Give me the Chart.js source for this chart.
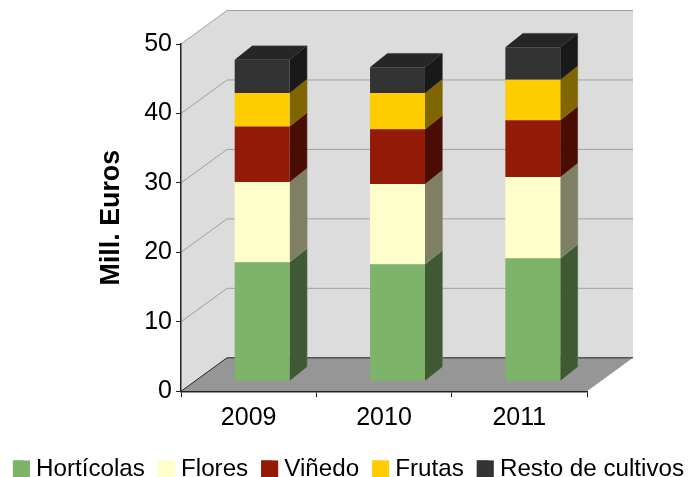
<!DOCTYPE html>
<html>
<head>
<meta charset="utf-8">
<script src="https://cdn.jsdelivr.net/npm/chart.js@4"></script>
<style>
  html, body { margin: 0; padding: 0; background: #fff; }
  canvas { display: block; }
</style>
</head>
<body>
<canvas id="chart" width="688" height="477"></canvas>
<script>
// Data
const years = ["2009", "2010", "2011"];
const horticolas = [17.15, 16.85, 17.7];
const flores = [11.55, 11.55, 11.7];
const vinedo = [8.0, 7.9, 8.2];
const frutas = [4.8, 5.2, 5.8];
const resto = [4.8, 3.7, 4.7];

const series_names = ["Hortícolas", "Flores", "Viñedo", "Frutas", "Resto de cultivos"];
const series_values = [horticolas, flores, vinedo, frutas, resto];
const series_colors = ["#7eb36a", "#ffffcc", "#931a06", "#ffcc00", "#333333"];

// 3d look: how far the back wall sits from the axes, and the bars inside that box
const wall_dx = 46, wall_dy = -33.5;
const bar_shift_x = 13.5, bar_shift_y = -10;
const bar_dx = 17.5, bar_dy = -14;
const swatch_size = 17;

function poly(ctx, color, pts) {
  ctx.fillStyle = color;
  ctx.beginPath();
  pts.forEach((p, i) => i ? ctx.lineTo(p[0], p[1]) : ctx.moveTo(p[0], p[1]));
  ctx.closePath();
  ctx.fill();
}

function seg(ctx, color, x1, y1, x2, y2) {
  ctx.strokeStyle = color;
  ctx.lineWidth = 1;
  ctx.beginPath();
  ctx.moveTo(x1, y1);
  ctx.lineTo(x2, y2);
  ctx.stroke();
}

// walls, floor and the gridlines running over them
const box_plugin = {
  id: "box",
  beforeDraw(chart) {
    const ctx = chart.ctx, a = chart.chartArea, y = chart.scales.y;
    const dx = wall_dx, dy = wall_dy;
    ctx.save();
    poly(ctx, "#dcdcdc", [[a.left, a.top], [a.left + dx, a.top + dy], [a.left + dx, a.bottom + dy], [a.left, a.bottom]]);
    poly(ctx, "#dcdcdc", [[a.left + dx, a.top + dy], [a.right + dx, a.top + dy], [a.right + dx, a.bottom + dy], [a.left + dx, a.bottom + dy]]);
    poly(ctx, "#969696", [[a.left, a.bottom], [a.left + dx, a.bottom + dy], [a.right + dx, a.bottom + dy], [a.right, a.bottom]]);
    y.ticks.forEach(t => {
      const py = y.getPixelForValue(t.value);
      const col = t.value === 0 ? "#222222" : "#a0a0a0";
      seg(ctx, col, a.left, py, a.left + dx, py + dy);
      seg(ctx, col, a.left + dx, py + dy, a.right + dx, py + dy);
    });
    ctx.restore();
  },
  beforeDatasetsDraw(chart) {
    const ctx = chart.ctx;
    ctx.save();
    ctx.translate(bar_shift_x, bar_shift_y);
    // side faces first, from the bar elements the library laid out
    chart.data.datasets.forEach((ds, i) => {
      chart.getDatasetMeta(i).data.forEach(bar => {
        const r = bar.x + bar.width / 2, top = bar.y, base = bar.base;
        const pts = [[r, top], [r + bar_dx, top + bar_dy], [r + bar_dx, base + bar_dy], [r, base]];
        poly(ctx, ds.backgroundColor, pts);
        poly(ctx, "rgba(0,0,0,0.5)", pts);
        seg(ctx, "rgba(128,128,128,0.4)", r + bar_dx, top + bar_dy, r + bar_dx, base + bar_dy);
        if (i === chart.data.datasets.length - 1) {
          const l = bar.x - bar.width / 2;
          const cap = [[l, top], [l + bar_dx, top + bar_dy], [r + bar_dx, top + bar_dy], [r, top]];
          poly(ctx, ds.backgroundColor, cap);
          poly(ctx, "rgba(0,0,0,0.25)", cap);
          seg(ctx, "rgba(128,128,128,0.4)", l + bar_dx, top + bar_dy, r + bar_dx, top + bar_dy);
        }
      });
    });
  },
  afterDatasetsDraw(chart) {
    chart.ctx.restore();
  },
  // the legend leaves half a font size after the box, so it is given a narrow box that is widened here
  afterDraw(chart) {
    const ctx = chart.ctx;
    chart.legend.legendHitBoxes.forEach((h, i) => {
      ctx.fillStyle = series_colors[i];
      ctx.fillRect(h.left, h.top + (h.height - swatch_size) / 2, swatch_size, swatch_size);
    });
  }
};

new Chart(document.getElementById("chart").getContext("2d"), {
  type: "bar",
  data: {
    labels: years,
    datasets: series_names.map((name, i) => ({
      label: name,
      data: series_values[i],
      backgroundColor: series_colors[i],
      barPercentage: 0.406,
      categoryPercentage: 1,
      borderWidth: 0,
      clip: false
    }))
  },
  options: {
    responsive: false,
    animation: false,
    // negative sides let the one-row legend run the full width of the window
    layout: { padding: { left: -20, right: -29, top: 44, bottom: -14 } },
    plugins: {
      tooltip: { enabled: false },
      legend: {
        position: "bottom",
        onClick: null,
        labels: {
          boxWidth: 11,
          boxHeight: swatch_size,
          padding: 13,
          color: "#000",
          font: { family: "Liberation Sans", size: 24.2 }
        }
      }
    },
    scales: {
      x: {
        stacked: true,
        afterFit: s => { s.height = 52.5; s.paddingRight = 101; },
        grid: { drawOnChartArea: false, tickLength: 6, tickColor: "#222", tickWidth: 1 },
        border: { color: "#222", width: 1.5 },
        ticks: { color: "#000", padding: 5.5, font: { family: "Liberation Sans", size: 25 } }
      },
      y: {
        stacked: true,
        min: 0,
        max: 50,
        afterFit: s => { s.width = 201; },
        grid: { drawOnChartArea: false, tickLength: 5, tickColor: "#222", tickWidth: 1 },
        border: { color: "#222", width: 1.5 },
        ticks: { stepSize: 10, color: "#000", padding: 4, font: { family: "Liberation Sans", size: 25 } },
        title: {
          display: true,
          text: "Mill. Euros",
          color: "#000",
          padding: { top: 116, bottom: 0 },
          font: { family: "Liberation Sans", size: 26.8, weight: "bold" }
        }
      }
    }
  },
  plugins: [box_plugin]
});
</script>
</body>
</html>
